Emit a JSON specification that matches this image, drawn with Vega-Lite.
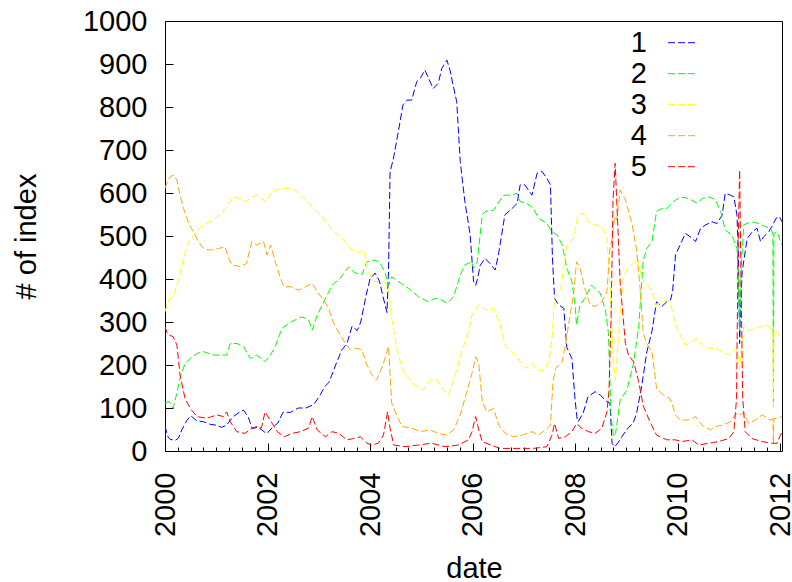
{
"$schema": "https://vega.github.io/schema/vega-lite/v6.json",
"width": 617, "height": 430,
"autosize": {"type": "none"},
"padding": {"left": 165, "top": 21, "right": 10, "bottom": 131},
"background": "white",
"config": {
  "font": "Liberation Sans",
  "view": {"stroke": "black", "strokeWidth": 1},
  "axis": {"domain": false, "grid": false, "labelColor": "black", "titleColor": "black", "titleFontWeight": "normal", "labelFontSize": 29, "titleFontSize": 29, "labelOverlap": false, "labelFlush": false}
},
"data": {"values": [
{"d":"2000-01-01","s":"1","v":58},{"d":"2000-01-19","s":"1","v":35},{"d":"2000-02-06","s":"1","v":27},{"d":"2000-03-15","s":"1","v":25},{"d":"2000-04-06","s":"1","v":30},{"d":"2000-05-01","s":"1","v":50},{"d":"2000-06-03","s":"1","v":70},{"d":"2000-07-02","s":"1","v":82},{"d":"2000-08-15","s":"1","v":70},{"d":"2000-10-02","s":"1","v":68},{"d":"2000-11-18","s":"1","v":62},{"d":"2001-01-01","s":"1","v":60},{"d":"2001-02-06","s":"1","v":55},{"d":"2001-03-15","s":"1","v":60},{"d":"2001-05-01","s":"1","v":80},{"d":"2001-06-14","s":"1","v":90},{"d":"2001-07-13","s":"1","v":95},{"d":"2001-08-15","s":"1","v":80},{"d":"2001-09-14","s":"1","v":52},{"d":"2001-10-20","s":"1","v":55},{"d":"2001-11-18","s":"1","v":50},{"d":"2001-12-25","s":"1","v":40},{"d":"2002-02-06","s":"1","v":55},{"d":"2002-03-15","s":"1","v":65},{"d":"2002-04-21","s":"1","v":90},{"d":"2002-06-14","s":"1","v":90},{"d":"2002-08-08","s":"1","v":100},{"d":"2002-10-02","s":"1","v":100},{"d":"2002-11-26","s":"1","v":108},{"d":"2003-01-01","s":"1","v":125},{"d":"2003-02-14","s":"1","v":150},{"d":"2003-03-15","s":"1","v":160},{"d":"2003-05-01","s":"1","v":200},{"d":"2003-06-14","s":"1","v":235},{"d":"2003-07-21","s":"1","v":250},{"d":"2003-08-26","s":"1","v":290},{"d":"2003-10-02","s":"1","v":280},{"d":"2003-10-27","s":"1","v":300},{"d":"2003-12-03","s":"1","v":360},{"d":"2004-01-01","s":"1","v":400},{"d":"2004-02-06","s":"1","v":414},{"d":"2004-03-08","s":"1","v":395},{"d":"2004-04-02","s":"1","v":360},{"d":"2004-05-01","s":"1","v":322},{"d":"2004-05-12","s":"1","v":420},{"d":"2004-05-23","s":"1","v":650},{"d":"2004-06-14","s":"1","v":677},{"d":"2004-07-21","s":"1","v":743},{"d":"2004-08-23","s":"1","v":805},{"d":"2004-09-21","s":"1","v":816},{"d":"2004-10-24","s":"1","v":816},{"d":"2004-11-29","s":"1","v":859},{"d":"2004-12-25","s":"1","v":867},{"d":"2005-01-26","s":"1","v":886},{"d":"2005-02-17","s":"1","v":870},{"d":"2005-03-26","s":"1","v":843},{"d":"2005-05-01","s":"1","v":855},{"d":"2005-05-27","s":"1","v":890},{"d":"2005-07-02","s":"1","v":909},{"d":"2005-07-24","s":"1","v":886},{"d":"2005-08-15","s":"1","v":851},{"d":"2005-09-10","s":"1","v":812},{"d":"2005-10-05","s":"1","v":673},{"d":"2005-11-07","s":"1","v":580},{"d":"2005-12-14","s":"1","v":505},{"d":"2006-01-08","s":"1","v":394},{"d":"2006-01-23","s":"1","v":385},{"d":"2006-02-03","s":"1","v":398},{"d":"2006-02-25","s":"1","v":432},{"d":"2006-03-30","s":"1","v":448},{"d":"2006-05-05","s":"1","v":436},{"d":"2006-06-11","s":"1","v":421},{"d":"2006-07-06","s":"1","v":460},{"d":"2006-08-19","s":"1","v":549},{"d":"2006-10-09","s":"1","v":564},{"d":"2006-11-15","s":"1","v":576},{"d":"2006-12-06","s":"1","v":619},{"d":"2007-01-08","s":"1","v":619},{"d":"2007-02-28","s":"1","v":595},{"d":"2007-04-06","s":"1","v":646},{"d":"2007-05-12","s":"1","v":650},{"d":"2007-06-14","s":"1","v":634},{"d":"2007-07-10","s":"1","v":619},{"d":"2007-07-24","s":"1","v":450},{"d":"2007-08-08","s":"1","v":355},{"d":"2007-09-06","s":"1","v":340},{"d":"2007-10-13","s":"1","v":332},{"d":"2007-11-04","s":"1","v":240},{"d":"2007-12-10","s":"1","v":215},{"d":"2008-01-01","s":"1","v":120},{"d":"2008-01-16","s":"1","v":75},{"d":"2008-01-23","s":"1","v":68},{"d":"2008-02-28","s":"1","v":88},{"d":"2008-04-02","s":"1","v":126},{"d":"2008-05-23","s":"1","v":138},{"d":"2008-06-29","s":"1","v":130},{"d":"2008-08-15","s":"1","v":115},{"d":"2008-09-06","s":"1","v":111},{"d":"2008-09-21","s":"1","v":18},{"d":"2008-10-09","s":"1","v":10},{"d":"2008-11-04","s":"1","v":20},{"d":"2008-11-29","s":"1","v":33},{"d":"2009-01-16","s":"1","v":55},{"d":"2009-02-17","s":"1","v":64},{"d":"2009-03-15","s":"1","v":88},{"d":"2009-04-21","s":"1","v":153},{"d":"2009-05-27","s":"1","v":231},{"d":"2009-07-02","s":"1","v":278},{"d":"2009-08-04","s":"1","v":347},{"d":"2009-09-10","s":"1","v":336},{"d":"2009-10-16","s":"1","v":347},{"d":"2009-11-11","s":"1","v":351},{"d":"2009-11-26","s":"1","v":370},{"d":"2009-12-17","s":"1","v":456},{"d":"2010-01-19","s":"1","v":479},{"d":"2010-02-25","s":"1","v":506},{"d":"2010-04-02","s":"1","v":498},{"d":"2010-05-09","s":"1","v":487},{"d":"2010-06-14","s":"1","v":518},{"d":"2010-07-21","s":"1","v":526},{"d":"2010-09-03","s":"1","v":533},{"d":"2010-10-09","s":"1","v":529},{"d":"2010-11-15","s":"1","v":549},{"d":"2010-12-06","s":"1","v":599},{"d":"2011-01-12","s":"1","v":595},{"d":"2011-02-06","s":"1","v":591},{"d":"2011-02-28","s":"1","v":549},{"d":"2011-03-11","s":"1","v":450},{"d":"2011-03-19","s":"1","v":250},{"d":"2011-03-26","s":"1","v":330},{"d":"2011-04-06","s":"1","v":417},{"d":"2011-05-12","s":"1","v":494},{"d":"2011-06-18","s":"1","v":510},{"d":"2011-07-21","s":"1","v":518},{"d":"2011-08-15","s":"1","v":487},{"d":"2011-09-06","s":"1","v":498},{"d":"2011-10-13","s":"1","v":510},{"d":"2011-11-11","s":"1","v":526},{"d":"2011-12-03","s":"1","v":541},{"d":"2011-12-28","s":"1","v":545},{"d":"2012-01-15","s":"1","v":533},
{"d":"2000-01-01","s":"2","v":111},{"d":"2000-01-30","s":"2","v":115},{"d":"2000-02-28","s":"2","v":100},{"d":"2000-03-22","s":"2","v":130},{"d":"2000-04-17","s":"2","v":169},{"d":"2000-05-23","s":"2","v":204},{"d":"2000-06-29","s":"2","v":215},{"d":"2000-08-15","s":"2","v":227},{"d":"2000-10-02","s":"2","v":231},{"d":"2000-12-10","s":"2","v":223},{"d":"2001-03-15","s":"2","v":223},{"d":"2001-04-10","s":"2","v":250},{"d":"2001-05-27","s":"2","v":250},{"d":"2001-07-13","s":"2","v":243},{"d":"2001-08-30","s":"2","v":215},{"d":"2001-10-16","s":"2","v":223},{"d":"2001-12-14","s":"2","v":208},{"d":"2002-01-19","s":"2","v":222},{"d":"2002-02-25","s":"2","v":243},{"d":"2002-04-13","s":"2","v":285},{"d":"2002-05-31","s":"2","v":297},{"d":"2002-07-17","s":"2","v":305},{"d":"2002-09-03","s":"2","v":312},{"d":"2002-10-20","s":"2","v":305},{"d":"2002-11-15","s":"2","v":281},{"d":"2002-12-21","s":"2","v":316},{"d":"2003-02-06","s":"2","v":347},{"d":"2003-04-06","s":"2","v":386},{"d":"2003-06-03","s":"2","v":402},{"d":"2003-08-01","s":"2","v":428},{"d":"2003-09-17","s":"2","v":414},{"d":"2003-11-04","s":"2","v":410},{"d":"2003-12-10","s":"2","v":440},{"d":"2004-02-06","s":"2","v":444},{"d":"2004-03-11","s":"2","v":438},{"d":"2004-04-17","s":"2","v":415},{"d":"2004-05-12","s":"2","v":385},{"d":"2004-06-03","s":"2","v":405},{"d":"2004-07-21","s":"2","v":394},{"d":"2004-10-02","s":"2","v":378},{"d":"2004-12-10","s":"2","v":359},{"d":"2005-02-21","s":"2","v":347},{"d":"2005-04-10","s":"2","v":355},{"d":"2005-05-27","s":"2","v":351},{"d":"2005-07-02","s":"2","v":343},{"d":"2005-08-19","s":"2","v":359},{"d":"2005-10-05","s":"2","v":409},{"d":"2005-11-07","s":"2","v":433},{"d":"2005-12-25","s":"2","v":440},{"d":"2006-01-08","s":"2","v":425},{"d":"2006-02-03","s":"2","v":440},{"d":"2006-03-11","s":"2","v":549},{"d":"2006-04-02","s":"2","v":557},{"d":"2006-05-31","s":"2","v":560},{"d":"2006-07-17","s":"2","v":584},{"d":"2006-08-12","s":"2","v":595},{"d":"2006-09-28","s":"2","v":595},{"d":"2006-11-15","s":"2","v":599},{"d":"2006-12-06","s":"2","v":580},{"d":"2007-01-23","s":"2","v":576},{"d":"2007-03-11","s":"2","v":564},{"d":"2007-04-17","s":"2","v":541},{"d":"2007-06-14","s":"2","v":529},{"d":"2007-07-21","s":"2","v":510},{"d":"2007-08-26","s":"2","v":502},{"d":"2007-10-02","s":"2","v":479},{"d":"2007-11-04","s":"2","v":425},{"d":"2007-12-10","s":"2","v":394},{"d":"2008-01-01","s":"2","v":340},{"d":"2008-01-12","s":"2","v":293},{"d":"2008-02-06","s":"2","v":340},{"d":"2008-03-11","s":"2","v":355},{"d":"2008-04-28","s":"2","v":386},{"d":"2008-06-03","s":"2","v":374},{"d":"2008-06-29","s":"2","v":367},{"d":"2008-08-04","s":"2","v":328},{"d":"2008-08-26","s":"2","v":274},{"d":"2008-09-14","s":"2","v":80},{"d":"2008-10-02","s":"2","v":33},{"d":"2008-10-16","s":"2","v":41},{"d":"2008-11-18","s":"2","v":119},{"d":"2009-01-05","s":"2","v":142},{"d":"2009-02-21","s":"2","v":204},{"d":"2009-03-30","s":"2","v":289},{"d":"2009-05-01","s":"2","v":444},{"d":"2009-05-27","s":"2","v":471},{"d":"2009-07-02","s":"2","v":487},{"d":"2009-08-04","s":"2","v":557},{"d":"2009-09-10","s":"2","v":564},{"d":"2009-10-16","s":"2","v":564},{"d":"2009-12-03","s":"2","v":580},{"d":"2010-01-19","s":"2","v":591},{"d":"2010-03-22","s":"2","v":587},{"d":"2010-05-20","s":"2","v":576},{"d":"2010-06-25","s":"2","v":587},{"d":"2010-08-12","s":"2","v":591},{"d":"2010-09-28","s":"2","v":584},{"d":"2010-11-04","s":"2","v":557},{"d":"2010-12-06","s":"2","v":514},{"d":"2011-01-23","s":"2","v":502},{"d":"2011-02-28","s":"2","v":471},{"d":"2011-03-11","s":"2","v":400},{"d":"2011-03-19","s":"2","v":280},{"d":"2011-03-30","s":"2","v":420},{"d":"2011-04-17","s":"2","v":526},{"d":"2011-06-14","s":"2","v":533},{"d":"2011-08-01","s":"2","v":529},{"d":"2011-09-17","s":"2","v":522},{"d":"2011-10-24","s":"2","v":518},{"d":"2011-11-11","s":"2","v":506},{"d":"2011-11-15","s":"2","v":100},{"d":"2011-11-18","s":"2","v":505},{"d":"2011-12-10","s":"2","v":510},{"d":"2012-01-15","s":"2","v":479},
{"d":"2000-01-01","s":"3","v":324},{"d":"2000-01-26","s":"3","v":351},{"d":"2000-02-28","s":"3","v":359},{"d":"2000-04-06","s":"3","v":398},{"d":"2000-05-12","s":"3","v":448},{"d":"2000-06-18","s":"3","v":487},{"d":"2000-07-21","s":"3","v":502},{"d":"2000-09-06","s":"3","v":518},{"d":"2000-10-24","s":"3","v":529},{"d":"2000-12-10","s":"3","v":537},{"d":"2001-01-26","s":"3","v":549},{"d":"2001-03-15","s":"3","v":568},{"d":"2001-05-01","s":"3","v":591},{"d":"2001-06-18","s":"3","v":587},{"d":"2001-07-24","s":"3","v":580},{"d":"2001-08-30","s":"3","v":587},{"d":"2001-10-16","s":"3","v":595},{"d":"2001-11-18","s":"3","v":587},{"d":"2001-12-17","s":"3","v":580},{"d":"2002-02-03","s":"3","v":603},{"d":"2002-04-13","s":"3","v":611},{"d":"2002-06-25","s":"3","v":611},{"d":"2002-08-12","s":"3","v":599},{"d":"2002-09-28","s":"3","v":584},{"d":"2002-11-26","s":"3","v":564},{"d":"2003-01-23","s":"3","v":545},{"d":"2003-04-06","s":"3","v":514},{"d":"2003-05-23","s":"3","v":502},{"d":"2003-07-10","s":"3","v":487},{"d":"2003-08-26","s":"3","v":467},{"d":"2003-10-13","s":"3","v":460},{"d":"2003-11-18","s":"3","v":467},{"d":"2003-12-21","s":"3","v":417},{"d":"2004-01-26","s":"3","v":394},{"d":"2004-04-06","s":"3","v":394},{"d":"2004-05-12","s":"3","v":382},{"d":"2004-06-03","s":"3","v":309},{"d":"2004-07-10","s":"3","v":239},{"d":"2004-08-15","s":"3","v":192},{"d":"2004-09-21","s":"3","v":173},{"d":"2004-11-18","s":"3","v":153},{"d":"2005-01-16","s":"3","v":142},{"d":"2005-03-04","s":"3","v":165},{"d":"2005-04-21","s":"3","v":165},{"d":"2005-06-07","s":"3","v":142},{"d":"2005-07-13","s":"3","v":130},{"d":"2005-08-30","s":"3","v":177},{"d":"2005-10-16","s":"3","v":231},{"d":"2005-12-03","s":"3","v":278},{"d":"2005-12-28","s":"3","v":316},{"d":"2006-02-14","s":"3","v":340},{"d":"2006-04-02","s":"3","v":328},{"d":"2006-05-31","s":"3","v":332},{"d":"2006-07-17","s":"3","v":293},{"d":"2006-08-23","s":"3","v":243},{"d":"2006-10-09","s":"3","v":231},{"d":"2006-12-06","s":"3","v":208},{"d":"2007-01-12","s":"3","v":192},{"d":"2007-02-28","s":"3","v":204},{"d":"2007-04-06","s":"3","v":188},{"d":"2007-05-23","s":"3","v":188},{"d":"2007-06-29","s":"3","v":208},{"d":"2007-07-21","s":"3","v":260},{"d":"2007-08-08","s":"3","v":355},{"d":"2007-09-21","s":"3","v":378},{"d":"2007-11-04","s":"3","v":479},{"d":"2007-12-21","s":"3","v":494},{"d":"2008-01-23","s":"3","v":549},{"d":"2008-02-28","s":"3","v":553},{"d":"2008-04-06","s":"3","v":533},{"d":"2008-05-23","s":"3","v":526},{"d":"2008-07-10","s":"3","v":522},{"d":"2008-08-15","s":"3","v":498},{"d":"2008-09-06","s":"3","v":390},{"d":"2008-10-02","s":"3","v":196},{"d":"2008-10-16","s":"3","v":165},{"d":"2008-11-07","s":"3","v":274},{"d":"2008-12-10","s":"3","v":405},{"d":"2009-01-16","s":"3","v":429},{"d":"2009-02-21","s":"3","v":436},{"d":"2009-03-22","s":"3","v":448},{"d":"2009-04-21","s":"3","v":400},{"d":"2009-05-27","s":"3","v":390},{"d":"2009-07-02","s":"3","v":370},{"d":"2009-08-04","s":"3","v":340},{"d":"2009-09-10","s":"3","v":347},{"d":"2009-10-16","s":"3","v":351},{"d":"2009-11-22","s":"3","v":330},{"d":"2009-12-17","s":"3","v":293},{"d":"2010-01-19","s":"3","v":270},{"d":"2010-02-25","s":"3","v":246},{"d":"2010-04-13","s":"3","v":254},{"d":"2010-05-20","s":"3","v":262},{"d":"2010-06-25","s":"3","v":246},{"d":"2010-08-12","s":"3","v":239},{"d":"2010-09-28","s":"3","v":239},{"d":"2010-11-15","s":"3","v":231},{"d":"2011-01-01","s":"3","v":223},{"d":"2011-02-17","s":"3","v":235},{"d":"2011-03-11","s":"3","v":225},{"d":"2011-03-19","s":"3","v":190},{"d":"2011-03-30","s":"3","v":230},{"d":"2011-04-17","s":"3","v":289},{"d":"2011-05-23","s":"3","v":281},{"d":"2011-07-10","s":"3","v":285},{"d":"2011-08-15","s":"3","v":289},{"d":"2011-10-02","s":"3","v":293},{"d":"2011-11-04","s":"3","v":281},{"d":"2011-11-11","s":"3","v":280},{"d":"2011-11-15","s":"3","v":95},{"d":"2011-11-18","s":"3","v":280},{"d":"2011-12-10","s":"3","v":278},{"d":"2012-01-15","s":"3","v":258},
{"d":"2000-01-01","s":"4","v":611},{"d":"2000-01-26","s":"4","v":634},{"d":"2000-02-28","s":"4","v":642},{"d":"2000-03-26","s":"4","v":630},{"d":"2000-04-17","s":"4","v":595},{"d":"2000-05-12","s":"4","v":564},{"d":"2000-06-18","s":"4","v":529},{"d":"2000-07-21","s":"4","v":510},{"d":"2000-08-26","s":"4","v":487},{"d":"2000-10-02","s":"4","v":471},{"d":"2000-11-18","s":"4","v":467},{"d":"2001-01-16","s":"4","v":471},{"d":"2001-03-04","s":"4","v":475},{"d":"2001-03-30","s":"4","v":448},{"d":"2001-04-21","s":"4","v":433},{"d":"2001-06-18","s":"4","v":429},{"d":"2001-08-04","s":"4","v":436},{"d":"2001-09-10","s":"4","v":487},{"d":"2001-10-16","s":"4","v":479},{"d":"2001-12-03","s":"4","v":487},{"d":"2001-12-28","s":"4","v":456},{"d":"2002-01-23","s":"4","v":479},{"d":"2002-02-25","s":"4","v":440},{"d":"2002-04-02","s":"4","v":402},{"d":"2002-04-28","s":"4","v":382},{"d":"2002-06-14","s":"4","v":382},{"d":"2002-08-12","s":"4","v":374},{"d":"2002-09-28","s":"4","v":382},{"d":"2002-11-15","s":"4","v":390},{"d":"2002-12-21","s":"4","v":370},{"d":"2003-02-06","s":"4","v":351},{"d":"2003-03-11","s":"4","v":332},{"d":"2003-04-17","s":"4","v":297},{"d":"2003-06-03","s":"4","v":270},{"d":"2003-07-10","s":"4","v":250},{"d":"2003-08-15","s":"4","v":235},{"d":"2003-10-02","s":"4","v":239},{"d":"2003-11-04","s":"4","v":235},{"d":"2003-12-10","s":"4","v":200},{"d":"2004-01-19","s":"4","v":175},{"d":"2004-02-17","s":"4","v":165},{"d":"2004-04-02","s":"4","v":200},{"d":"2004-05-12","s":"4","v":243},{"d":"2004-06-03","s":"4","v":112},{"d":"2004-06-29","s":"4","v":91},{"d":"2004-08-15","s":"4","v":57},{"d":"2004-10-24","s":"4","v":53},{"d":"2004-12-25","s":"4","v":45},{"d":"2005-03-04","s":"4","v":49},{"d":"2005-05-01","s":"4","v":41},{"d":"2005-07-02","s":"4","v":37},{"d":"2005-08-19","s":"4","v":49},{"d":"2005-10-05","s":"4","v":84},{"d":"2005-11-07","s":"4","v":122},{"d":"2005-12-25","s":"4","v":177},{"d":"2006-01-23","s":"4","v":219},{"d":"2006-02-14","s":"4","v":204},{"d":"2006-03-11","s":"4","v":115},{"d":"2006-04-13","s":"4","v":91},{"d":"2006-05-31","s":"4","v":99},{"d":"2006-07-06","s":"4","v":60},{"d":"2006-08-23","s":"4","v":41},{"d":"2006-10-20","s":"4","v":33},{"d":"2006-12-21","s":"4","v":37},{"d":"2007-02-28","s":"4","v":45},{"d":"2007-04-17","s":"4","v":37},{"d":"2007-06-03","s":"4","v":49},{"d":"2007-07-10","s":"4","v":60},{"d":"2007-07-28","s":"4","v":161},{"d":"2007-08-15","s":"4","v":192},{"d":"2007-10-02","s":"4","v":208},{"d":"2007-10-24","s":"4","v":246},{"d":"2007-11-29","s":"4","v":320},{"d":"2007-12-21","s":"4","v":363},{"d":"2008-01-12","s":"4","v":440},{"d":"2008-02-06","s":"4","v":425},{"d":"2008-03-11","s":"4","v":378},{"d":"2008-04-17","s":"4","v":340},{"d":"2008-05-23","s":"4","v":336},{"d":"2008-07-10","s":"4","v":347},{"d":"2008-08-15","s":"4","v":370},{"d":"2008-09-06","s":"4","v":471},{"d":"2008-09-21","s":"4","v":491},{"d":"2008-10-09","s":"4","v":545},{"d":"2008-10-24","s":"4","v":537},{"d":"2008-11-18","s":"4","v":607},{"d":"2008-12-25","s":"4","v":584},{"d":"2009-02-10","s":"4","v":529},{"d":"2009-03-15","s":"4","v":467},{"d":"2009-04-10","s":"4","v":374},{"d":"2009-05-01","s":"4","v":274},{"d":"2009-05-27","s":"4","v":250},{"d":"2009-07-02","s":"4","v":231},{"d":"2009-08-04","s":"4","v":146},{"d":"2009-09-21","s":"4","v":130},{"d":"2009-11-07","s":"4","v":122},{"d":"2009-11-22","s":"4","v":110},{"d":"2009-12-17","s":"4","v":84},{"d":"2010-01-19","s":"4","v":72},{"d":"2010-03-22","s":"4","v":72},{"d":"2010-05-09","s":"4","v":80},{"d":"2010-06-25","s":"4","v":60},{"d":"2010-08-23","s":"4","v":49},{"d":"2010-09-28","s":"4","v":57},{"d":"2010-11-15","s":"4","v":60},{"d":"2011-01-12","s":"4","v":68},{"d":"2011-02-17","s":"4","v":84},{"d":"2011-03-11","s":"4","v":90},{"d":"2011-03-19","s":"4","v":85},{"d":"2011-04-17","s":"4","v":88},{"d":"2011-05-23","s":"4","v":64},{"d":"2011-07-10","s":"4","v":72},{"d":"2011-08-26","s":"4","v":84},{"d":"2011-10-24","s":"4","v":72},{"d":"2011-11-11","s":"4","v":75},{"d":"2011-11-15","s":"4","v":18},{"d":"2011-11-18","s":"4","v":75},{"d":"2011-12-10","s":"4","v":76},{"d":"2012-01-15","s":"4","v":80},
{"d":"2000-01-01","s":"5","v":289},{"d":"2000-01-16","s":"5","v":275},{"d":"2000-01-26","s":"5","v":270},{"d":"2000-02-28","s":"5","v":266},{"d":"2000-03-26","s":"5","v":246},{"d":"2000-04-17","s":"5","v":177},{"d":"2000-05-23","s":"5","v":122},{"d":"2000-06-29","s":"5","v":99},{"d":"2000-08-15","s":"5","v":80},{"d":"2000-10-24","s":"5","v":76},{"d":"2001-01-05","s":"5","v":84},{"d":"2001-02-21","s":"5","v":80},{"d":"2001-03-15","s":"5","v":91},{"d":"2001-04-10","s":"5","v":68},{"d":"2001-05-27","s":"5","v":45},{"d":"2001-07-24","s":"5","v":41},{"d":"2001-09-10","s":"5","v":53},{"d":"2001-10-16","s":"5","v":57},{"d":"2001-11-18","s":"5","v":53},{"d":"2001-12-14","s":"5","v":91},{"d":"2002-01-19","s":"5","v":72},{"d":"2002-03-11","s":"5","v":45},{"d":"2002-04-28","s":"5","v":33},{"d":"2002-06-25","s":"5","v":41},{"d":"2002-08-23","s":"5","v":45},{"d":"2002-10-20","s":"5","v":53},{"d":"2002-11-15","s":"5","v":80},{"d":"2002-12-21","s":"5","v":49},{"d":"2003-02-17","s":"5","v":33},{"d":"2003-04-06","s":"5","v":45},{"d":"2003-05-23","s":"5","v":41},{"d":"2003-07-21","s":"5","v":26},{"d":"2003-09-06","s":"5","v":29},{"d":"2003-10-24","s":"5","v":33},{"d":"2003-12-10","s":"5","v":18},{"d":"2004-01-16","s":"5","v":14},{"d":"2004-02-28","s":"5","v":18},{"d":"2004-04-06","s":"5","v":37},{"d":"2004-05-05","s":"5","v":91},{"d":"2004-05-23","s":"5","v":53},{"d":"2004-06-18","s":"5","v":14},{"d":"2004-09-06","s":"5","v":10},{"d":"2004-12-10","s":"5","v":14},{"d":"2005-03-15","s":"5","v":18},{"d":"2005-06-18","s":"5","v":10},{"d":"2005-09-21","s":"5","v":14},{"d":"2005-12-03","s":"5","v":26},{"d":"2005-12-28","s":"5","v":45},{"d":"2006-01-23","s":"5","v":80},{"d":"2006-02-14","s":"5","v":49},{"d":"2006-03-11","s":"5","v":22},{"d":"2006-05-09","s":"5","v":14},{"d":"2006-07-17","s":"5","v":6},{"d":"2006-11-15","s":"5","v":6},{"d":"2007-03-11","s":"5","v":6},{"d":"2007-06-14","s":"5","v":10},{"d":"2007-07-21","s":"5","v":37},{"d":"2007-08-08","s":"5","v":64},{"d":"2007-09-06","s":"5","v":29},{"d":"2007-10-24","s":"5","v":33},{"d":"2007-12-10","s":"5","v":45},{"d":"2008-01-12","s":"5","v":64},{"d":"2008-02-17","s":"5","v":53},{"d":"2008-04-06","s":"5","v":45},{"d":"2008-05-23","s":"5","v":41},{"d":"2008-07-10","s":"5","v":53},{"d":"2008-08-15","s":"5","v":90},{"d":"2008-08-30","s":"5","v":140},{"d":"2008-09-14","s":"5","v":312},{"d":"2008-09-28","s":"5","v":584},{"d":"2008-10-13","s":"5","v":669},{"d":"2008-10-24","s":"5","v":584},{"d":"2008-11-18","s":"5","v":390},{"d":"2008-12-25","s":"5","v":250},{"d":"2009-01-16","s":"5","v":223},{"d":"2009-02-21","s":"5","v":208},{"d":"2009-03-30","s":"5","v":161},{"d":"2009-05-01","s":"5","v":105},{"d":"2009-06-18","s":"5","v":68},{"d":"2009-08-04","s":"5","v":37},{"d":"2009-10-16","s":"5","v":26},{"d":"2009-12-14","s":"5","v":26},{"d":"2010-02-03","s":"5","v":22},{"d":"2010-04-13","s":"5","v":26},{"d":"2010-05-31","s":"5","v":14},{"d":"2010-08-12","s":"5","v":18},{"d":"2010-10-20","s":"5","v":22},{"d":"2011-01-01","s":"5","v":29},{"d":"2011-02-06","s":"5","v":45},{"d":"2011-02-25","s":"5","v":122},{"d":"2011-03-08","s":"5","v":471},{"d":"2011-03-19","s":"5","v":653},{"d":"2011-03-26","s":"5","v":471},{"d":"2011-04-10","s":"5","v":122},{"d":"2011-04-28","s":"5","v":45},{"d":"2011-06-14","s":"5","v":29},{"d":"2011-08-26","s":"5","v":22},{"d":"2011-11-04","s":"5","v":18},{"d":"2011-12-10","s":"5","v":18},{"d":"2012-01-15","s":"5","v":45}
]},
"mark": {"type": "line", "strokeWidth": 1, "strokeDash": [7, 3], "clip": true},
"encoding": {
  "x": {"field": "d", "type": "temporal",
    "scale": {"type": "utc", "domain": [{"year": 2000, "month": 1, "date": 1, "utc": true}, {"year": 2012, "month": 1, "date": 15, "utc": true}]},
    "axis": {"orient": "bottom", "ticks": true, "tickColor": "black", "offset": -8, "tickSize": 8, "tickCount": {"interval": "month", "step": 3},
      "labelExpr": "utcmonth(datum.value)==0 && utcyear(datum.value)%2==0 ? utcFormat(datum.value, '%Y') : ''",
      "tickDash": {"condition": {"test": "utcmonth(datum.value)==0 && utcyear(datum.value)%2==0", "value": [8, 0]}, "value": [0, 4, 4, 0]},
      "labelAngle": 270, "labelAlign": "right", "labelBaseline": "middle", "labelPadding": 21,
      "title": "date", "titleX": 309, "titleY": 134, "titleBaseline": "alphabetic", "titleAnchor": "middle", "titleAlign": "center"}},
  "y": {"field": "v", "type": "quantitative",
    "scale": {"domain": [0, 1000], "nice": false, "zero": true},
    "axis": {"orient": "left", "ticks": true, "tickColor": "black", "offset": -8, "tickSize": 8, "format": "d", "values": [0, 100, 200, 300, 400, 500, 600, 700, 800, 900, 1000], "labelPadding": 18,
      "title": "# of index", "titleX": -138, "titleY": 215, "titleAngle": 270, "titleAlign": "center", "titleBaseline": "alphabetic"}},
  "color": {"field": "s", "type": "nominal",
    "scale": {"domain": ["1", "2", "3", "4", "5"], "range": ["#0000ff", "#00ff00", "#ffff00", "#ffa500", "#ff0000"]},
    "legend": {"orient": "none", "legendX": 502.5, "legendY": 6.2, "title": null, "symbolType": "stroke", "symbolSize": 900, "symbolDash": [7, 3], "symbolStrokeWidth": 1, "rowPadding": 0, "labelFontSize": 29, "labelAlign": "right", "labelOffset": -51.5, "labelBaseline": "middle", "padding": 0, "labelColor": "black", "labelLimit": 0}}
}
}
